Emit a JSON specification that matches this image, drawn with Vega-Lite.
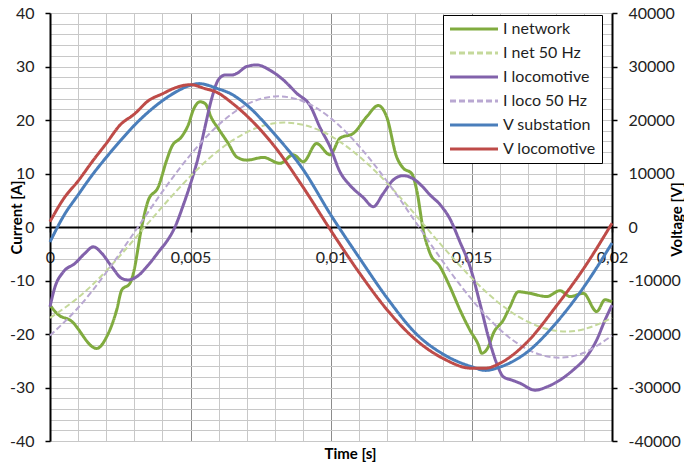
{
  "$schema": "https://vega.github.io/schema/vega-lite/v6.json",
  "width": 562,
  "height": 428,
  "autosize": {"type": "none"},
  "padding": {"left": 50, "top": 13, "right": 72, "bottom": 24},
  "background": "white",
  "config": {
    "view": {"stroke": null},
    "font": "Lato",
    "axis": {"labelFont": "Lato", "titleFont": "Lato", "labelColor": "#222222", "titleColor": "#000000", "labelOverlap": false, "labelFlush": false}
  },
  "datasets": {
    "cur": [
      {"s": "I network", "t": 0, "v": -14.6},
      {"s": "I network", "t": 0.000295, "v": -16.4},
      {"s": "I network", "t": 0.000712, "v": -17.4},
      {"s": "I network", "t": 0.001662, "v": -22.7},
      {"s": "I network", "t": 0.002018, "v": -20.5},
      {"s": "I network", "t": 0.002374, "v": -15.5},
      {"s": "I network", "t": 0.002552, "v": -11.8},
      {"s": "I network", "t": 0.002847, "v": -10.5},
      {"s": "I network", "t": 0.002964, "v": -8.7},
      {"s": "I network", "t": 0.003263, "v": 0},
      {"s": "I network", "t": 0.003498, "v": 5.0},
      {"s": "I network", "t": 0.003854, "v": 7.5},
      {"s": "I network", "t": 0.004153, "v": 12.5},
      {"s": "I network", "t": 0.004331, "v": 15.0},
      {"s": "I network", "t": 0.004687, "v": 16.9},
      {"s": "I network", "t": 0.004922, "v": 19.1},
      {"s": "I network", "t": 0.0051, "v": 21.9},
      {"s": "I network", "t": 0.005338, "v": 23.4},
      {"s": "I network", "t": 0.005516, "v": 23.1},
      {"s": "I network", "t": 0.005754, "v": 20.3},
      {"s": "I network", "t": 0.005989, "v": 18.4},
      {"s": "I network", "t": 0.006345, "v": 15.6},
      {"s": "I network", "t": 0.006644, "v": 13.1},
      {"s": "I network", "t": 0.007, "v": 12.5},
      {"s": "I network", "t": 0.007591, "v": 13.0},
      {"s": "I network", "t": 0.008185, "v": 11.9},
      {"s": "I network", "t": 0.008658, "v": 13.5},
      {"s": "I network", "t": 0.009014, "v": 12.2},
      {"s": "I network", "t": 0.009488, "v": 15.6},
      {"s": "I network", "t": 0.009964, "v": 13.5},
      {"s": "I network", "t": 0.01032, "v": 16.6},
      {"s": "I network", "t": 0.010794, "v": 17.5},
      {"s": "I network", "t": 0.01127, "v": 20.6},
      {"s": "I network", "t": 0.011683, "v": 22.7},
      {"s": "I network", "t": 0.011981, "v": 20.6},
      {"s": "I network", "t": 0.012337, "v": 13.1},
      {"s": "I network", "t": 0.012573, "v": 11.0},
      {"s": "I network", "t": 0.012872, "v": 10.0},
      {"s": "I network", "t": 0.01305, "v": 6.9},
      {"s": "I network", "t": 0.013285, "v": -0.6},
      {"s": "I network", "t": 0.013523, "v": -4.9},
      {"s": "I network", "t": 0.013879, "v": -7.4},
      {"s": "I network", "t": 0.014235, "v": -11.2},
      {"s": "I network", "t": 0.01459, "v": -15.5},
      {"s": "I network", "t": 0.014947, "v": -19.3},
      {"s": "I network", "t": 0.015243, "v": -22.0},
      {"s": "I network", "t": 0.015363, "v": -23.6},
      {"s": "I network", "t": 0.015598, "v": -22.4},
      {"s": "I network", "t": 0.015776, "v": -19.9},
      {"s": "I network", "t": 0.016132, "v": -17.4},
      {"s": "I network", "t": 0.01637, "v": -14.9},
      {"s": "I network", "t": 0.016665, "v": -12.1},
      {"s": "I network", "t": 0.017082, "v": -12.4},
      {"s": "I network", "t": 0.017676, "v": -13.0},
      {"s": "I network", "t": 0.018149, "v": -11.9},
      {"s": "I network", "t": 0.018505, "v": -13.0},
      {"s": "I network", "t": 0.018979, "v": -12.4},
      {"s": "I network", "t": 0.019456, "v": -15.8},
      {"s": "I network", "t": 0.019751, "v": -13.6},
      {"s": "I network", "t": 0.02, "v": -14.0},
      {"s": "I locomotive", "t": 0, "v": -14.9},
      {"s": "I locomotive", "t": 0.000178, "v": -11.2},
      {"s": "I locomotive", "t": 0.000473, "v": -8.4},
      {"s": "I locomotive", "t": 0.00089, "v": -6.8},
      {"s": "I locomotive", "t": 0.001246, "v": -4.9},
      {"s": "I locomotive", "t": 0.001541, "v": -3.7},
      {"s": "I locomotive", "t": 0.00184, "v": -4.9},
      {"s": "I locomotive", "t": 0.002196, "v": -7.4},
      {"s": "I locomotive", "t": 0.002552, "v": -9.6},
      {"s": "I locomotive", "t": 0.002786, "v": -9.9},
      {"s": "I locomotive", "t": 0.003085, "v": -9.3},
      {"s": "I locomotive", "t": 0.003498, "v": -7.1},
      {"s": "I locomotive", "t": 0.003915, "v": -4.3},
      {"s": "I locomotive", "t": 0.004153, "v": -2.7},
      {"s": "I locomotive", "t": 0.004448, "v": 0},
      {"s": "I locomotive", "t": 0.004744, "v": 4.1},
      {"s": "I locomotive", "t": 0.005043, "v": 8.8},
      {"s": "I locomotive", "t": 0.005278, "v": 13.1},
      {"s": "I locomotive", "t": 0.005516, "v": 18.7},
      {"s": "I locomotive", "t": 0.005754, "v": 24.0},
      {"s": "I locomotive", "t": 0.005989, "v": 27.5},
      {"s": "I locomotive", "t": 0.006228, "v": 28.4},
      {"s": "I locomotive", "t": 0.006466, "v": 28.4},
      {"s": "I locomotive", "t": 0.006644, "v": 28.7},
      {"s": "I locomotive", "t": 0.007, "v": 30.0},
      {"s": "I locomotive", "t": 0.007356, "v": 30.3},
      {"s": "I locomotive", "t": 0.007829, "v": 29.3},
      {"s": "I locomotive", "t": 0.008302, "v": 27.5},
      {"s": "I locomotive", "t": 0.008779, "v": 25.0},
      {"s": "I locomotive", "t": 0.009253, "v": 22.7},
      {"s": "I locomotive", "t": 0.009609, "v": 18.6},
      {"s": "I locomotive", "t": 0.009964, "v": 15.0},
      {"s": "I locomotive", "t": 0.01032, "v": 10.3},
      {"s": "I locomotive", "t": 0.010676, "v": 7.8},
      {"s": "I locomotive", "t": 0.01115, "v": 5.5},
      {"s": "I locomotive", "t": 0.011505, "v": 3.8},
      {"s": "I locomotive", "t": 0.011861, "v": 6.3},
      {"s": "I locomotive", "t": 0.012217, "v": 8.8},
      {"s": "I locomotive", "t": 0.012573, "v": 9.6},
      {"s": "I locomotive", "t": 0.012929, "v": 9.0},
      {"s": "I locomotive", "t": 0.013285, "v": 7.4},
      {"s": "I locomotive", "t": 0.013523, "v": 6.0},
      {"s": "I locomotive", "t": 0.013879, "v": 4.2},
      {"s": "I locomotive", "t": 0.014235, "v": 1.5},
      {"s": "I locomotive", "t": 0.01459, "v": -2.8},
      {"s": "I locomotive", "t": 0.014947, "v": -7.4},
      {"s": "I locomotive", "t": 0.015302, "v": -14.3},
      {"s": "I locomotive", "t": 0.015598, "v": -20.5},
      {"s": "I locomotive", "t": 0.015897, "v": -25.5},
      {"s": "I locomotive", "t": 0.016132, "v": -28.0},
      {"s": "I locomotive", "t": 0.01643, "v": -28.6},
      {"s": "I locomotive", "t": 0.016726, "v": -29.2},
      {"s": "I locomotive", "t": 0.01726, "v": -30.5},
      {"s": "I locomotive", "t": 0.017676, "v": -29.9},
      {"s": "I locomotive", "t": 0.018149, "v": -28.6},
      {"s": "I locomotive", "t": 0.018623, "v": -26.7},
      {"s": "I locomotive", "t": 0.0191, "v": -24.2},
      {"s": "I locomotive", "t": 0.019456, "v": -21.1},
      {"s": "I locomotive", "t": 0.019751, "v": -17.4},
      {"s": "I locomotive", "t": 0.02, "v": -14.6}
    ],
    "cur50": [
      {"s": "I net 50 Hz", "t": 0, "v": -17.0},
      {"s": "I net 50 Hz", "t": 0.001, "v": -13.2},
      {"s": "I net 50 Hz", "t": 0.002, "v": -8.2},
      {"s": "I net 50 Hz", "t": 0.003, "v": -2.3},
      {"s": "I net 50 Hz", "t": 0.004, "v": 3.8},
      {"s": "I net 50 Hz", "t": 0.005, "v": 9.5},
      {"s": "I net 50 Hz", "t": 0.006, "v": 14.3},
      {"s": "I net 50 Hz", "t": 0.007, "v": 17.7},
      {"s": "I net 50 Hz", "t": 0.008, "v": 19.4},
      {"s": "I net 50 Hz", "t": 0.009, "v": 19.1},
      {"s": "I net 50 Hz", "t": 0.01, "v": 17.0},
      {"s": "I net 50 Hz", "t": 0.011, "v": 13.2},
      {"s": "I net 50 Hz", "t": 0.012, "v": 8.2},
      {"s": "I net 50 Hz", "t": 0.013, "v": 2.3},
      {"s": "I net 50 Hz", "t": 0.014, "v": -3.8},
      {"s": "I net 50 Hz", "t": 0.015, "v": -9.5},
      {"s": "I net 50 Hz", "t": 0.016, "v": -14.3},
      {"s": "I net 50 Hz", "t": 0.017, "v": -17.7},
      {"s": "I net 50 Hz", "t": 0.018, "v": -19.4},
      {"s": "I net 50 Hz", "t": 0.019, "v": -19.1},
      {"s": "I net 50 Hz", "t": 0.02, "v": -17.0},
      {"s": "I loco 50 Hz", "t": 0, "v": -20.3},
      {"s": "I loco 50 Hz", "t": 0.001, "v": -15.1},
      {"s": "I loco 50 Hz", "t": 0.002, "v": -8.5},
      {"s": "I loco 50 Hz", "t": 0.003, "v": -1.0},
      {"s": "I loco 50 Hz", "t": 0.004, "v": 6.6},
      {"s": "I loco 50 Hz", "t": 0.005, "v": 13.5},
      {"s": "I loco 50 Hz", "t": 0.006, "v": 19.1},
      {"s": "I loco 50 Hz", "t": 0.007, "v": 22.9},
      {"s": "I loco 50 Hz", "t": 0.008, "v": 24.4},
      {"s": "I loco 50 Hz", "t": 0.009, "v": 23.5},
      {"s": "I loco 50 Hz", "t": 0.01, "v": 20.3},
      {"s": "I loco 50 Hz", "t": 0.011, "v": 15.1},
      {"s": "I loco 50 Hz", "t": 0.012, "v": 8.5},
      {"s": "I loco 50 Hz", "t": 0.013, "v": 1.0},
      {"s": "I loco 50 Hz", "t": 0.014, "v": -6.6},
      {"s": "I loco 50 Hz", "t": 0.015, "v": -13.5},
      {"s": "I loco 50 Hz", "t": 0.016, "v": -19.1},
      {"s": "I loco 50 Hz", "t": 0.017, "v": -22.9},
      {"s": "I loco 50 Hz", "t": 0.018, "v": -24.4},
      {"s": "I loco 50 Hz", "t": 0.019, "v": -23.5},
      {"s": "I loco 50 Hz", "t": 0.02, "v": -20.3}
    ],
    "volt": [
      {"s": "V substation", "t": 0, "u": -2800},
      {"s": "V substation", "t": 0.0005, "u": 2200},
      {"s": "V substation", "t": 0.001, "u": 6000},
      {"s": "V substation", "t": 0.0015, "u": 9700},
      {"s": "V substation", "t": 0.002, "u": 13000},
      {"s": "V substation", "t": 0.0025, "u": 16100},
      {"s": "V substation", "t": 0.003, "u": 19000},
      {"s": "V substation", "t": 0.0035, "u": 21500},
      {"s": "V substation", "t": 0.004, "u": 23600},
      {"s": "V substation", "t": 0.0045, "u": 25300},
      {"s": "V substation", "t": 0.005, "u": 26500},
      {"s": "V substation", "t": 0.0053, "u": 26800},
      {"s": "V substation", "t": 0.006, "u": 25800},
      {"s": "V substation", "t": 0.0064, "u": 25000},
      {"s": "V substation", "t": 0.007, "u": 22800},
      {"s": "V substation", "t": 0.008, "u": 17300},
      {"s": "V substation", "t": 0.009, "u": 10800},
      {"s": "V substation", "t": 0.01, "u": 2200},
      {"s": "V substation", "t": 0.011, "u": -5700},
      {"s": "V substation", "t": 0.012, "u": -13300},
      {"s": "V substation", "t": 0.013, "u": -19800},
      {"s": "V substation", "t": 0.014, "u": -23800},
      {"s": "V substation", "t": 0.015, "u": -26100},
      {"s": "V substation", "t": 0.0155, "u": -26800},
      {"s": "V substation", "t": 0.016, "u": -26200},
      {"s": "V substation", "t": 0.017, "u": -23300},
      {"s": "V substation", "t": 0.018, "u": -18000},
      {"s": "V substation", "t": 0.019, "u": -11200},
      {"s": "V substation", "t": 0.02, "u": -3000},
      {"s": "V locomotive", "t": 0, "u": 1000},
      {"s": "V locomotive", "t": 0.0005, "u": 5400},
      {"s": "V locomotive", "t": 0.001, "u": 8600},
      {"s": "V locomotive", "t": 0.0015, "u": 12200},
      {"s": "V locomotive", "t": 0.002, "u": 15600},
      {"s": "V locomotive", "t": 0.0025, "u": 19100},
      {"s": "V locomotive", "t": 0.003, "u": 21100},
      {"s": "V locomotive", "t": 0.0035, "u": 23600},
      {"s": "V locomotive", "t": 0.004, "u": 24900},
      {"s": "V locomotive", "t": 0.0045, "u": 26100},
      {"s": "V locomotive", "t": 0.005, "u": 26600},
      {"s": "V locomotive", "t": 0.0055, "u": 25900},
      {"s": "V locomotive", "t": 0.006, "u": 25000},
      {"s": "V locomotive", "t": 0.0064, "u": 23500},
      {"s": "V locomotive", "t": 0.007, "u": 20800},
      {"s": "V locomotive", "t": 0.008, "u": 15000},
      {"s": "V locomotive", "t": 0.009, "u": 7500},
      {"s": "V locomotive", "t": 0.01, "u": -700},
      {"s": "V locomotive", "t": 0.011, "u": -8500},
      {"s": "V locomotive", "t": 0.012, "u": -15500},
      {"s": "V locomotive", "t": 0.013, "u": -21000},
      {"s": "V locomotive", "t": 0.014, "u": -24600},
      {"s": "V locomotive", "t": 0.015, "u": -26400},
      {"s": "V locomotive", "t": 0.0155, "u": -26400},
      {"s": "V locomotive", "t": 0.016, "u": -25500},
      {"s": "V locomotive", "t": 0.017, "u": -21400},
      {"s": "V locomotive", "t": 0.018, "u": -14900},
      {"s": "V locomotive", "t": 0.019, "u": -7700},
      {"s": "V locomotive", "t": 0.02, "u": 700}
    ]
  },
  "encoding": {
    "x": {
      "field": "t",
      "type": "quantitative",
      "scale": {"domain": [0, 0.02], "nice": false, "zero": false},
      "axis": {
        "values": [0, 0.001, 0.002, 0.003, 0.004, 0.005, 0.006, 0.007, 0.008, 0.009, 0.01, 0.011, 0.012, 0.013, 0.014, 0.015, 0.016, 0.017, 0.018, 0.019, 0.02],
        "offset": -214,
        "domainColor": "#000000",
        "domainWidth": 2,
        "tickColor": "#000000",
        "tickWidth": 1.5,
        "tickSize": 5,
        "tickOpacity": {"condition": {"test": "abs(datum.value*200-round(datum.value*200))<0.000001", "value": 1}, "value": 0},
        "labelExpr": "abs(datum.value*200-round(datum.value*200))<0.000001 ? replace(''+datum.value, '.', ',') : ''",
        "labelFontSize": 16,
        "labelPadding": 17,
        "grid": true,
        "gridColor": {"condition": {"test": "abs(datum.value*200-round(datum.value*200))<0.000001 && datum.value>0.0001", "value": "#8c8c8c"}, "value": "#c8c8c8"},
        "gridWidth": 1,
        "title": "Time [s]",
        "titleFontSize": 15,
        "titleFontWeight": "bold",
        "titleX": 300,
        "titleY": 226,
        "titleBaseline": "middle",
        "titleAlign": "center"
      }
    },
    "color": {
      "field": "s",
      "type": "nominal",
      "scale": {
        "domain": ["I network", "I net 50 Hz", "I locomotive", "I loco 50 Hz", "V substation", "V locomotive"],
        "range": ["#80ab3f", "#c5d99b", "#8262ab", "#b9a8d2", "#4a7ebb", "#be4b48"]
      },
      "legend": {
        "orient": "none", "legendX": 393, "legendY": 2, "title": null, "direction": "vertical",
        "strokeColor": "#000000", "fillColor": "#ffffff", "padding": 6,
        "symbolType": "M-4,0H4", "symbolSize": 144, "symbolStrokeWidth": 3, "symbolOffset": 17,
        "labelFontSize": 16, "labelFont": "Lato", "labelColor": "#1f1f1f", "labelOffset": 21,
        "rowPadding": 8
      }
    },
    "strokeDash": {
      "field": "s",
      "type": "nominal",
      "scale": {
        "domain": ["I network", "I net 50 Hz", "I locomotive", "I loco 50 Hz", "V substation", "V locomotive"],
        "range": [[1, 0], [6, 3], [1, 0], [6, 3], [1, 0], [1, 0]]
      },
      "legend": {
        "orient": "none", "legendX": 393, "legendY": 2, "title": null, "direction": "vertical",
        "strokeColor": "#000000", "fillColor": "#ffffff", "padding": 6,
        "symbolType": "M-4,0H4", "symbolSize": 144, "symbolStrokeWidth": 3, "symbolOffset": 17,
        "labelFontSize": 16, "labelFont": "Lato", "labelColor": "#1f1f1f", "labelOffset": 21,
        "rowPadding": 8
      }
    }
  },
  "layer": [
    {
      "encoding": {
        "y": {
          "field": "v",
          "type": "quantitative",
          "scale": {"domain": [-40, 40], "nice": false, "zero": false},
          "axis": {
            "values": [-40, -38, -36, -34, -32, -30, -28, -26, -24, -22, -20, -18, -16, -14, -12, -10, -8, -6, -4, -2, 0, 2, 4, 6, 8, 10, 12, 14, 16, 18, 20, 22, 24, 26, 28, 30, 32, 34, 36, 38, 40],
            "domainColor": "#000000",
            "domainWidth": 2,
            "tickColor": "#000000",
            "tickWidth": 1.5,
            "tickSize": 5,
            "tickOpacity": {"condition": {"test": "datum.value % 10 == 0", "value": 1}, "value": 0},
            "labelExpr": "datum.value % 10 == 0 ? ''+datum.value : ''",
            "labelFontSize": 16,
            "labelPadding": 11,
            "grid": true,
            "gridColor": "#c8c8c8",
            "gridWidth": 1,
            "title": "Current [A]",
            "titleFontSize": 15,
            "titleFontWeight": "bold",
            "titleAngle": 270,
            "titleX": -34,
            "titleY": 204,
            "titleBaseline": "middle",
            "titleAlign": "center"
          }
        }
      },
      "layer": [
        {"data": {"name": "cur"}, "mark": {"type": "line", "interpolate": "monotone", "strokeWidth": 3, "strokeJoin": "round"}},
        {"data": {"name": "cur50"}, "mark": {"type": "line", "interpolate": "natural", "strokeWidth": 2}}
      ]
    },
    {
      "data": {"name": "volt"},
      "mark": {"type": "line", "interpolate": "monotone", "strokeWidth": 3, "strokeJoin": "round"},
      "encoding": {
        "y": {
          "field": "u",
          "type": "quantitative",
          "scale": {"domain": [-40000, 40000], "nice": false, "zero": false},
          "axis": {
            "orient": "right",
            "values": [-40000, -30000, -20000, -10000, 0, 10000, 20000, 30000, 40000],
            "labelExpr": "''+datum.value",
            "grid": false,
            "domainColor": "#000000",
            "domainWidth": 2,
            "tickColor": "#000000",
            "tickWidth": 1.5,
            "tickSize": 5,
            "labelFontSize": 16,
            "labelPadding": 11,
            "title": "Voltage [V]",
            "titleFontSize": 15,
            "titleFontWeight": "bold",
            "titleAngle": 270,
            "titleX": 64,
            "titleY": 206,
            "titleBaseline": "middle",
            "titleAlign": "center"
          }
        }
      }
    }
  ],
  "resolve": {"scale": {"y": "independent"}}
}
